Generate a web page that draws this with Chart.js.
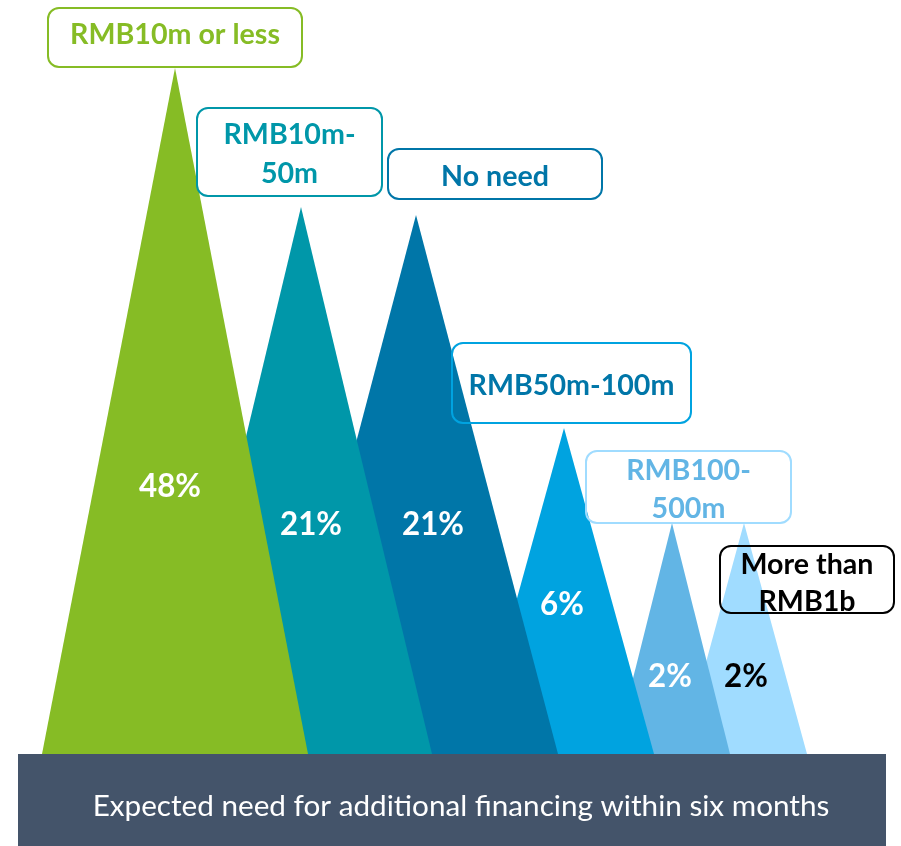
<!DOCTYPE html>
<html>
<head>
<meta charset="utf-8">
<title>Financing need</title>
<script src="https://cdn.jsdelivr.net/npm/chart.js@4.4.0/dist/chart.umd.min.js"></script>
<style>
    html, body { margin: 0; padding: 0; background: #fff; }
    canvas { display: block; }
</style>
</head>
<body>
<canvas id="need" width="901" height="846"></canvas>
<script>
// ---------------------------------------------------------------------------- D A T A
const categories = [['RMB10m or less'], ['RMB10m-', '50m'], ['No need'], ['RMB50m-100m'], ['RMB100-', '500m'], ['More than', 'RMB1b']];
const shares = [48, 21, 21, 6, 2, 2];
// height of each peak above the base line, and where it sits along the x axis
const peakHeights = [686, 547, 539, 326, 231, 231];
const centers = [175, 301, 416, 564, 672, 744];
const halfBases = [133, 131, 142, 90, 58, 63];
const caption = 'Expected need for additional financing within six months';

// ---------------------------------------------------------------------------- S T Y L E
const fills = ['#86BC25', '#0097A9', '#0076A8', '#00A3E0', '#62B5E5', '#A0DCFF'];
const labelText = ['#86BC25', '#0097A9', '#0076A8', '#0076A8', '#62B5E5', '#000000'];
const labelBorder = ['#86BC25', '#0097A9', '#0076A8', '#00A3E0', '#A0DCFF', '#000000'];
const shareText = ['#fff', '#fff', '#fff', '#fff', '#fff', '#000'];

// label boxes (left, top, right, bottom) and centre of each text line, in px
const boxes = [[48, 8, 302, 67], [197, 108, 382, 196], [388, 149, 602, 199], [452, 343, 691, 423], [586, 451, 791, 523], [720, 546, 894, 613]];
const lineMid = [[33], [133, 172], [175], [384], [469, 507], [563, 600]];
const shareAt = [[170, 485], [311, 523], [433, 523], [562, 603], [670, 675], [746, 675]];

const FONT = 'Lato, "Open Sans", sans-serif';
const CAP = 0.717; // hauteur des capitales de Lato

// police réglée sur la hauteur des capitales, puis resserrée pour tenir la largeur
const fitFont = (ctx, text, weight, capHeight, width) => {
    const size = capHeight / CAP;
    ctx.font = `${weight} ${size}px ${FONT}`;
    return {font: ctx.font, size: size, sx: width / ctx.measureText(text).width};
};

// police réglée seulement sur la largeur
const widthFont = (ctx, text, weight, width) => {
    ctx.font = `${weight} 100px ${FONT}`;
    const size = 100 * width / ctx.measureText(text).width;
    ctx.font = `${weight} ${size}px ${FONT}`;
    return {font: ctx.font, size: size, sx: 1};
};

const roundRect = (ctx, x1, y1, x2, y2, r) => {
    ctx.beginPath();
    ctx.moveTo(x1 + r, y1);
    ctx.arcTo(x2, y1, x2, y2, r);
    ctx.arcTo(x2, y2, x1, y2, r);
    ctx.arcTo(x1, y2, x1, y1, r);
    ctx.arcTo(x1, y1, x2, y1, r);
    ctx.closePath();
};

// draws text centred on x with its cap height centred on y
const capText = (ctx, text, x, y, f) => {
    ctx.save();
    ctx.font = f.font;
    ctx.textAlign = 'center';
    ctx.textBaseline = 'alphabetic';
    ctx.translate(x, y + f.size * CAP / 2);
    ctx.scale(f.sx, 1);
    ctx.fillText(text, 0, 0);
    ctx.restore();
};

const decor = {
    id: 'decor',
    afterDatasetsDraw(chart) {
        const ctx = chart.ctx;
        const xs = chart.scales.x, ys = chart.scales.y;
        const base = ys.getPixelForValue(0);
        ctx.save();

        // bandeau du bas
        ctx.fillStyle = '#44546A';
        ctx.fillRect(18, base, 868, chart.height - base);
        ctx.fillStyle = '#fff';
        capText(ctx, caption, 461, 805, widthFont(ctx, caption, 'normal', 737));

        // pourcentages
        const pf = fitFont(ctx, '48%', 'bold', 23, 62);
        shares.forEach((v, i) => {
            ctx.fillStyle = shareText[i];
            capText(ctx, v + '%', xs.getPixelForValue(shareAt[i][0]), shareAt[i][1], pf);
        });

        // étiquettes
        const lf = fitFont(ctx, 'RMB10m or less', 'bold', 21, 210);
        categories.forEach((lines, i) => {
            const [x1, y1, x2, y2] = boxes[i];
            ctx.lineWidth = 2;
            ctx.strokeStyle = labelBorder[i];
            roundRect(ctx, x1, y1, x2, y2, 11);
            ctx.stroke();
            ctx.fillStyle = labelText[i];
            lines.forEach((t, j) => capText(ctx, t, (x1 + x2) / 2, lineMid[i][j], lf));
        });
        ctx.restore();
    }
};

const datasets = categories.map((c, i) => ({
    label: c.join(' '),
    data: [
        {x: centers[i] - halfBases[i], y: 0},
        {x: centers[i], y: peakHeights[i]},
        {x: centers[i] + halfBases[i], y: 0}
    ],
    showLine: true,
    fill: 'origin',
    backgroundColor: fills[i],
    borderColor: 'rgba(0,0,0,0)',
    borderWidth: 0,
    pointRadius: 0,
    tension: 0
}));

new Chart(document.getElementById('need'), {
    type: 'scatter',
    data: {datasets: datasets},
    options: {
        responsive: false,
        animation: false,
        layout: {padding: 0},
        plugins: {legend: {display: false}, tooltip: {enabled: false}},
        scales: {
            x: {type: 'linear', display: false, min: 0, max: 901},
            y: {type: 'linear', display: false, min: -92, max: 754}
        }
    },
    plugins: [decor]
});
</script>
</body>
</html>
